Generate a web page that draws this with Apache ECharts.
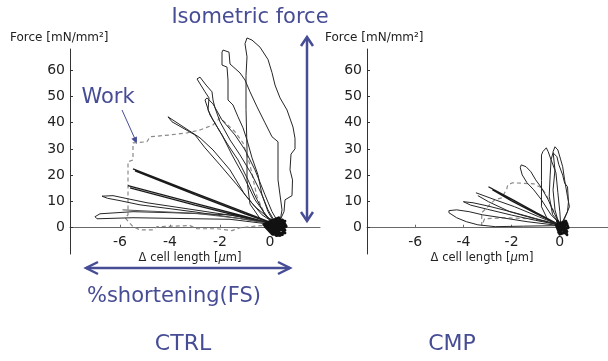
<!DOCTYPE html>
<html><head><meta charset="utf-8">
<script src="https://cdn.jsdelivr.net/npm/echarts@6/dist/echarts.min.js"></script>
<style>html,body{margin:0;padding:0;background:#fff}#c{width:608px;height:361px}</style>
</head><body><div id="c"></div>
<script>
// ---- tick labels ----
const xTickVals = [-6, -4, -2, 0];
const yTickVals = [0, 10, 20, 30, 40, 50, 60];
const panelTitles = ['CTRL', 'CMP'];

// ---- CTRL traces: [Δ cell length (µm), force (mN/mm²)] ----
const ctrlT1 = [[0.32,1.1],[0.56,6.1],[0.6,10.6],[0.88,12.2],[0.9,18.2],[0.8,22],[0.84,28],[1.0,30],[1.0,34],[0.92,38.3],[0.68,44.8],[0.4,49.4],[0.2,54.3],[0.08,59],[-0.08,64],[-0.4,68.7],[-0.72,71.4],[-0.92,72.2],[-1.0,70],[-0.92,65],[-0.96,58],[-0.96,45],[-0.92,30],[-0.92,18],[-0.8,9],[-0.4,3.5],[0.2,0.8]];
const ctrlT2 = [[0.4,2.3],[0.48,6.8],[0.4,12.5],[0.32,18.2],[0.32,32.7],[0.08,34.6],[-0.2,39.9],[-0.52,46],[-0.8,51.7],[-1.0,56.2],[-1.2,58.9],[-1.6,62.3],[-1.64,66.8],[-1.88,67.6],[-1.92,66.8],[-1.92,61.9],[-1.72,61.1],[-1.68,56.2],[-1.68,48.6],[-1.48,46.7],[-1.28,42.2],[-1.08,38],[-0.92,33.4],[-0.72,26.6],[-0.48,20.1],[-0.32,12.5],[-0.08,6.1],[0.2,1.5]];
const ctrlT3 = [[0.24,1.5],[-0.08,6.8],[-0.32,12.5],[-0.72,20.1],[-1.2,27.7],[-1.6,33.4],[-2.0,40.3],[-2.2,45.6],[-2.28,48.6],[-2.32,51.7],[-2.56,54.3],[-2.8,57.3],[-2.92,56.6],[-2.6,51.7],[-2.44,49.4],[-2.48,44.8],[-2.28,41],[-2.0,36.5],[-1.68,31.5],[-1.28,25.8],[-0.88,18.2],[-0.56,11.4],[-0.2,4.9],[0.2,0.8]];
const ctrlT4 = [[0.36,1.5],[0.08,6.1],[-0.2,12.5],[-0.6,22],[-1.0,29.6],[-1.4,35.3],[-1.92,41],[-2.28,47.1],[-2.52,49.4],[-2.6,48.6],[-2.4,42.9],[-1.92,35.3],[-1.52,27.7],[-1.08,20.1],[-0.6,10.6],[-0.08,3.8],[0.36,1.5]];
const ctrlT5 = [[-4.08,42.2],[-3.52,38.7],[-2.8,34.2],[-2.28,29.6],[-1.6,22],[-1.0,12.5],[-0.32,4.9],[0.3,1],[-0.6,8],[-1.32,16.3],[-2.0,23.9],[-2.6,30.4],[-3.0,35.3],[-3.92,40.3],[-4.08,42.2]];
const ctrlL1 = [[-5.48,22.4],[-3,13.2],[-1,5.8],[0.3,1],[-1,5.3],[-3,12.6],[-5.4,21.6]];
const ctrlL2 = [[-5.68,16],[-3,9.3],[-1,4.3],[0.3,1],[-1,3.8],[-3,8.6],[-5.6,15.2]];
const ctrlL3 = [[-6.72,12],[-6.28,12.2],[-5.88,11.4],[-5.48,10.6],[-4.92,9.5],[-1.2,4.2],[0.3,1],[-0.5,2.5],[-3,6],[-5.2,8.7],[-6.0,10.3],[-6.5,11.2],[-6.72,12]];
const ctrlL4 = [[-7.0,4.2],[-6.8,5.3],[-5.48,6.1],[-3.88,5.7],[-1.6,4.9],[0.3,1],[-1.6,3.2],[-5.48,3.8],[-6.92,3.4],[-7.0,4.2]];
const ctrlL5 = [[-5.9,6.8],[-3,5.5],[-1.2,3.5],[0.3,1]];
const ctrlWork = [[0.32,0.8],[-0.2,4.9],[-0.52,11.8],[-0.8,23.9],[-1.08,32.3],[-1.4,36.5],[-2.0,41.8],[-2.28,39.1],[-2.8,37.2],[-3.32,36.1],[-4.0,35.3],[-4.8,34.6],[-4.92,32.7],[-5.48,32.3],[-5.48,25.8],[-5.68,25.1],[-5.68,4.9],[-5.8,3.8],[-5.48,0.4],[-5.2,-0.8],[-4.68,-0.8],[-4.52,0.4],[-3.2,0.8],[-2.92,-0.4],[-2.12,-0.4],[-1.52,-1.1],[-1.2,0],[-0.4,0.8],[0.32,0.8]];
const ctrlHub = [[0.3,1],[0.6,-2],[0.1,-2.5],[-0.2,0.5],[0.5,3],[0.65,0.5],[0.2,-1.5],[-0.1,2],[0.35,3.8],[0.6,-1],[0.05,-0.5],[0.45,2],[0.15,3],[-0.25,1.2],[0.5,-2.6],[0.25,-3],[0.0,1.5],[0.55,1.2],[0.3,-1],[0.1,0.5],[0.4,0.5],[0.2,2.2],[0.35,-2.2],[0.0,-1.5],[0.45,-0.5],[-0.1,0.8],[0.25,1.8],[0.6,2.5],[0.15,-1],[0.4,-3],[0.1,1.2]];

// ---- CMP traces ----
const cmpC1 = [[0.08,0.8],[0.4,8],[0.32,11.8],[0.2,18.2],[0.12,23.2],[0.04,25.8],[-0.08,29.6],[-0.2,30.8],[-0.28,28.9],[-0.2,22],[-0.28,14.4],[-0.2,6.8],[-0.04,1.5]];
const cmpC2 = [[0.04,0.8],[0,6.1],[-0.08,13.3],[-0.16,20.9],[-0.36,25.8],[-0.48,28.9],[-0.56,30.4],[-0.7,29],[-0.76,27.7],[-0.76,18],[-0.76,8],[-0.5,3],[0.04,0.8]];
const cmpC3 = [[0.04,1],[0.32,6.1],[0.36,9.9],[0.32,15.6],[0.2,17],[0.12,20],[-0.04,24],[-0.12,27],[-0.28,28.5],[-0.36,26],[-0.4,20],[-0.44,12],[-0.3,5],[0.04,1]];
const cmpC4 = [[-1.6,23.9],[-1.4,23.2],[-1.2,21.3],[-1.0,18.2],[-0.76,15.2],[-0.48,10.6],[-0.2,4.9],[0.04,1.1],[-0.36,4.9],[-0.76,10.6],[-1.08,14.4],[-1.36,17.1],[-1.56,20.1],[-1.64,22.8],[-1.6,23.9]];
const cmpK1 = [[-2.96,15.6],[-2,10.9],[-1,5.9],[0,1],[-1,5.4],[-2,10.2],[-2.8,14.5]];
const cmpK2 = [[-3.48,13.3],[-2.68,10.6],[-1.88,8],[-0.88,4.2],[0,1],[-0.88,3],[-2.08,6.1],[-2.96,9.9],[-3.4,12.2]];
const cmpK3 = [[-4.0,9.9],[-3.6,9.5],[-3.0,8.3],[-2,6],[-1,3.5],[0,1],[-1,2.8],[-2,4.8],[-3,7],[-3.7,8.6],[-4.0,9.9]];
const cmpK4 = [[-4.6,6.5],[-4.28,6.8],[-3.76,6.1],[-3.2,4.9],[-2.4,3.8],[-1.36,2.3],[0,0.8],[-1.5,0.6],[-2.68,0.4],[-3.4,1.1],[-3.88,2.3],[-4.28,3.8],[-4.6,5.7],[-4.6,6.5]];
const cmpWork = [[0,1.1],[-0.28,6.8],[-0.56,12.5],[-0.76,15.2],[-1.08,16.7],[-1.96,17.1],[-2.16,16.3],[-2.2,14.8],[-2.4,11.4],[-2.7,10.6],[-3.24,5.7],[-3.24,0.8],[-3.12,3.4],[-2.28,3.8],[-1.28,3.4],[-0.48,2.3],[0,1.1]];
const cmpHub = [[0.1,1],[0.3,-1.5],[0,-2.5],[-0.15,1],[0.25,2.5],[0.35,0],[0.05,-1],[-0.1,2.5],[0.3,-2.7],[0.1,0.5],[0.2,-0.5],[0.0,0.5],[0.3,1.5],[-0.05,-1.8],[0.2,-2]];

const FONT = "'DejaVu Sans', Verdana, sans-serif";
const BLUE = '#474d95';
const LINE = '#262626';
const Y_MIN = -10, Y_MAX = 68, GRID_TOP = 49, GRID_H = 205;

function ln(data, gi, extra) {
  return Object.assign({
    type: 'line', xAxisIndex: gi, yAxisIndex: gi, data: data,
    symbol: 'none', showSymbol: false, clip: false, silent: true, animation: false,
    lineStyle: { color: LINE, width: 1 }
  }, extra || {});
}
const dashed = { lineStyle: { color: '#8a8a8a', width: 1.2, type: [4, 3] } };
const hub = { lineStyle: { color: '#111', width: 2.8, join: 'round', cap: 'round' } };
const bold = { lineStyle: { color: '#1a1a1a', width: 1.3 } };
const grey = { lineStyle: { color: '#555', width: 1 } };

// x axis drawn through y = 0: shift it up from the grid bottom by the zero offset
const zeroOffset = -GRID_H * (0 - Y_MIN) / (Y_MAX - Y_MIN);
function xAx(gi) {
  return { type: 'value', gridIndex: gi, min: -8, max: 2, interval: 2, position: 'bottom', offset: zeroOffset,
    axisLine: { show: true, onZero: false, lineStyle: { color: '#6a6a6a', width: 1 } },
    axisTick: { show: true, inside: true, length: 3, customValues: xTickVals, lineStyle: { color: '#6a6a6a' } },
    axisLabel: { customValues: xTickVals, margin: 8, fontSize: 14, color: '#222', fontFamily: FONT },
    splitLine: { show: false } };
}
function yAx(gi) {
  return { type: 'value', gridIndex: gi, min: Y_MIN, max: Y_MAX, interval: 10,
    axisLine: { show: true, onZero: false, lineStyle: { color: '#333', width: 1 } },
    axisTick: { show: true, inside: true, length: 3, customValues: yTickVals, lineStyle: { color: '#333' } },
    axisLabel: { customValues: yTickVals, margin: 5, fontSize: 14, color: '#222', fontFamily: FONT },
    splitLine: { show: false } };
}

function txt(x, y, s, size, color, align) {
  return { type: 'text', x: x, y: y, silent: true,
    style: { text: s, fill: color, font: size + 'px ' + FONT, fontSize: size, fontFamily: FONT,
      textAlign: align || 'center', align: align || 'center', textVerticalAlign: 'middle', verticalAlign: 'middle' } };
}
function xName(cx) {
  return { type: 'text', x: cx, y: 258, silent: true,
    style: { text: '{a|Δ cell length [}{b|μ}{a|m]}', align: 'center', textAlign: 'center', verticalAlign: 'middle', textVerticalAlign: 'middle',
      rich: { a: { fontSize: 11.5, fontFamily: FONT, fill: '#222' }, b: { fontSize: 11.5, fontFamily: FONT, fontStyle: 'italic', fill: '#222' } } } };
}
function pl(points, w) {
  return { type: 'polyline', silent: true, shape: { points: points }, style: { stroke: BLUE, lineWidth: w, fill: null } };
}

const option = {
  animation: false,
  backgroundColor: '#fff',
  grid: [
    { left: 70, top: GRID_TOP, width: 250, height: GRID_H },
    { left: 367, top: GRID_TOP, width: 250, height: GRID_H }
  ],
  xAxis: [xAx(0), xAx(1)],
  yAxis: [yAx(0), yAx(1)],
  series: [
    ln(ctrlWork, 0, dashed),
    ln(ctrlT1, 0), ln(ctrlT2, 0), ln(ctrlT3, 0), ln(ctrlT4, 0), ln(ctrlT5, 0),
    ln(ctrlL1, 0, bold), ln(ctrlL2, 0, bold), ln(ctrlL3, 0), ln(ctrlL4, 0), ln(ctrlL5, 0, grey),
    ln(ctrlHub, 0, hub),
    ln(cmpWork, 1, dashed),
    ln(cmpC1, 1), ln(cmpC2, 1), ln(cmpC3, 1), ln(cmpC4, 1),
    ln(cmpK1, 1, bold), ln(cmpK2, 1), ln(cmpK3, 1), ln(cmpK4, 1),
    ln(cmpHub, 1, hub)
  ],
  graphic: [
    txt(10, 38, 'Force [mN/mm²]', 12, '#222', 'left'),
    txt(325, 38, 'Force [mN/mm²]', 12, '#222', 'left'),
    xName(190), xName(482),
    txt(250, 18, 'Isometric force', 21, BLUE),
    txt(108, 98, 'Work', 21, BLUE),
    txt(174, 297, '%shortening(FS)', 21, BLUE),
    txt(183, 344, panelTitles[0], 22, BLUE),
    txt(452, 344, panelTitles[1], 22, BLUE),
    // isometric force double arrow
    pl([[307, 38], [307, 221]], 2.5),
    pl([[301, 46], [307, 37], [313, 46]], 2.5),
    pl([[301, 212], [307, 221], [313, 212]], 2.5),
    // shortening double arrow
    pl([[86, 268], [290, 268]], 2.5),
    pl([[98, 262], [86, 268], [98, 274]], 2.5),
    pl([[278, 262], [290, 268], [278, 274]], 2.5),
    // work pointer
    pl([[122, 110], [135, 139]], 1),
    { type: 'polygon', silent: true, shape: { points: [[137, 144], [131.4, 138.8], [136.9, 136.4]] }, style: { fill: BLUE } }
  ]
};
const chart = echarts.init(document.getElementById('c'), null, { renderer: 'canvas' });
chart.setOption(option);
</script></body></html>
